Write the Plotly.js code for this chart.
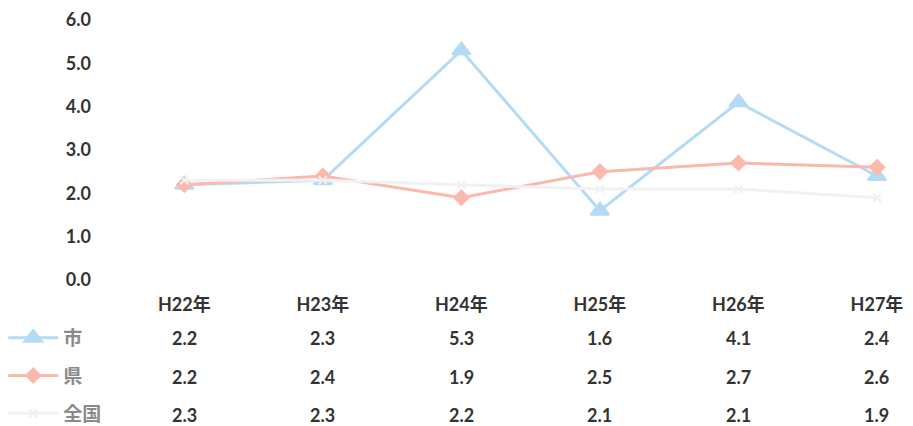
<!DOCTYPE html>
<html><head><meta charset="utf-8">
<script src="https://cdn.plot.ly/plotly-3.0.1.min.js"></script>
<style>body{margin:0;background:#fff}#c{width:913px;height:426px}</style>
</head><body><div id="c"></div>
<script>
const categories = ['H22年','H23年','H24年','H25年','H26年','H27年'];
const seriesNames = ['市','県','全国'];
const shi = [2.2, 2.3, 5.3, 1.6, 4.1, 2.4];
const ken = [2.2, 2.4, 1.9, 2.5, 2.7, 2.6];
const zenkoku = [2.3, 2.3, 2.2, 2.1, 2.1, 1.9];
const yTicks = [0,1,2,3,4,5,6];

const FONT = 'Lato, "Noto Sans CJK JP", sans-serif';
const values = [shi, ken, zenkoku];
const colors = ['#b3dbf5', '#fbb9ae', '#f1f1f1'];
const symbols = ['triangle-up', 'diamond', 'x-thin-open'];
const msizes = [16, 11, 8];

const traces = values.map((v,i)=>({
  type:'scatter', mode:'lines+markers', x:categories, y:v, name:seriesNames[i],
  legendgroup:'g'+i,
  line:{color:colors[i], width:3},
  marker:{symbol:symbols[i], size:msizes[i], color:colors[i], line:{color:colors[i], width:2}},
  cliponaxis:false
}));

const rowY = [-0.223, -0.373, -0.519];
const annotations = [];
values.forEach((v,i)=>{
  v.forEach((val,j)=>{
    annotations.push({xref:'x', yref:'paper', x:categories[j], y:rowY[i], text:val.toFixed(1),
      showarrow:false, xanchor:'center', yanchor:'middle',
      font:{family:FONT, size:18, color:'#333333', weight:'bold'}});
  });
});

const layout = {
  width:913, height:426,
  margin:{l:115, r:0, t:20, b:146, autoexpand:false},
  paper_bgcolor:'#fff', plot_bgcolor:'#fff',
  showlegend:true,
  legend:{x:-0.14, xanchor:'left', y:-0.15, yanchor:'top', traceorder:'grouped', tracegroupgap:10,
    font:{family:FONT, size:19, color:'#8a8a8a', weight:'bold'}, bgcolor:'rgba(0,0,0,0)', itemwidth:50},
  xaxis:{type:'category', range:[-0.5, 5.26], showgrid:false, zeroline:false, showline:false,
    ticks:'', tickfont:{family:FONT, size:18, color:'#333333', weight:'bold'}, ticklabelstandoff:12},
  yaxis:{range:[0,6], tickvals:yTicks, ticktext:yTicks.map(t=>t.toFixed(1)), showgrid:false,
    zeroline:false, showline:false, ticks:'', ticklabelstandoff:23,
    tickfont:{family:FONT, size:18, color:'#333333', weight:'bold'}},
  annotations:annotations
};
Plotly.newPlot('c', traces, layout, {displayModeBar:false, staticPlot:true});
</script></body></html>
